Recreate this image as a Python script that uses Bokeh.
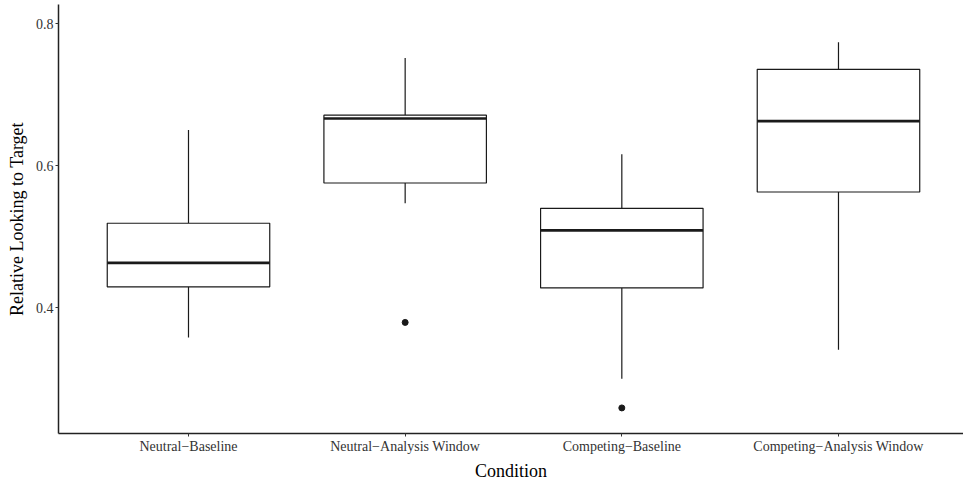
import numpy as np
from bokeh.plotting import figure
from bokeh.models import Range1d, FixedTicker
from bokeh.embed import file_html
from bokeh.resources import INLINE

categories = ["Neutral\u2212Baseline", "Neutral\u2212Analysis Window",
              "Competing\u2212Baseline", "Competing\u2212Analysis Window"]
lower = [0.358, 0.547, 0.300, 0.341]
q1 = [0.4295, 0.5757, 0.428, 0.563]
median = [0.4632, 0.6665, 0.509, 0.6628]
q3 = [0.519, 0.6712, 0.540, 0.7358]
upper = [0.6502, 0.7517, 0.616, 0.774]
outlier_cat = [2, 3]
outlier_val = [0.3794, 0.259]
yticks = [0.4, 0.6, 0.8]

FONT = "Liberation Serif"
BOX_W = 0.75

x = np.arange(1, len(categories) + 1)

p = figure(width=963, height=483, output_backend="svg", toolbar_location=None,
           x_range=Range1d(0.4, 4.577), y_range=Range1d(0.223, 0.827),
           min_border_left=58, min_border_right=0, min_border_top=4, min_border_bottom=0)

# whiskers
p.segment(x0=x, y0=q3, x1=x, y1=upper, line_color="#1a1a1a", line_width=1.2)
p.segment(x0=x, y0=lower, x1=x, y1=q1, line_color="#1a1a1a", line_width=1.2)
# boxes
p.vbar(x=x, width=BOX_W, bottom=q1, top=q3, fill_color="white",
       line_color="#1a1a1a", line_width=1.2)
# medians
p.segment(x0=x - BOX_W / 2, y0=median, x1=x + BOX_W / 2, y1=median,
          line_color="#1a1a1a", line_width=2.6)
# outliers
p.scatter(x=outlier_cat, y=outlier_val, size=6, color="#1a1a1a")

p.grid.visible = False
p.outline_line_color = None
p.background_fill_color = "white"

p.xaxis.ticker = FixedTicker(ticks=list(x))
p.xaxis.major_label_overrides = {int(i): c for i, c in zip(x, categories)}
p.yaxis.ticker = FixedTicker(ticks=yticks)
p.yaxis.formatter.use_scientific = False

for ax in (p.xaxis[0], p.yaxis[0]):
    ax.axis_line_color = "#222222"
    ax.axis_line_width = 1.5
    ax.major_tick_line_color = "#333333"
    ax.major_tick_in = 0
    ax.major_tick_out = 3
    ax.minor_tick_line_color = None
    ax.major_label_text_font = FONT
    ax.major_label_text_font_size = "14px"
    ax.major_label_text_color = "#333333"
    ax.axis_label_text_font = FONT
    ax.axis_label_text_font_size = "18px"
    ax.axis_label_text_font_style = "normal"
    ax.axis_label_text_color = "black"
    ax.major_label_standoff = 2

p.xaxis.axis_label = "Condition"
p.yaxis.axis_label = "Relative Looking to Target"
p.xaxis.axis_label_standoff = 4
p.yaxis.axis_label_standoff = 6

open("out.html", "w").write(file_html(p, INLINE))
